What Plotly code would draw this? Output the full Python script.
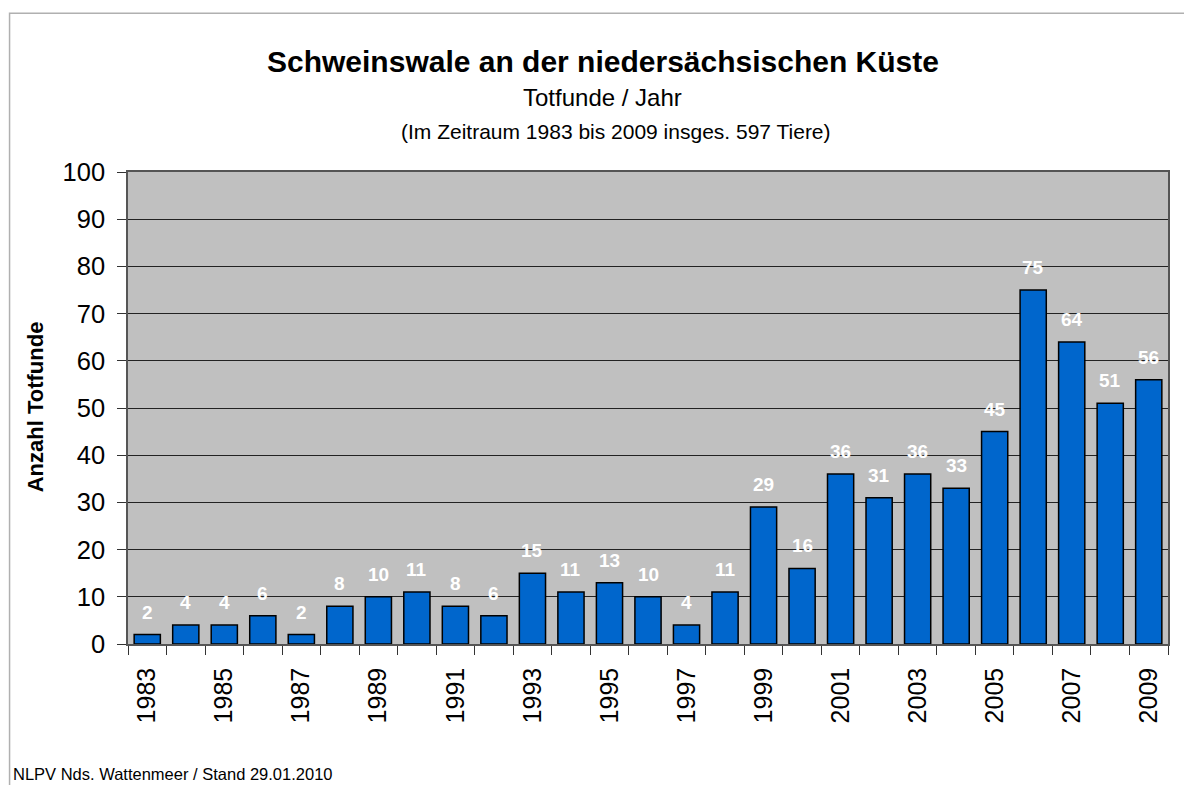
import plotly.graph_objects as go

years = list(range(1983, 2010))
counts = [2, 4, 4, 6, 2, 8, 10, 11, 8, 6, 15, 11, 13, 10, 4, 11, 29, 16, 36, 31, 36, 33, 45, 75, 64, 51, 56]
label_years = list(range(1983, 2010, 2))
y_ticks = list(range(0, 101, 10))

FONT = "Liberation Sans, Arial, sans-serif"

fig = go.Figure()
fig.add_trace(go.Bar(
    x=years, y=counts,
    marker=dict(color="#0066CC", line=dict(color="#000000", width=1.5)),
    width=0.68,
    hoverinfo="x+y",
))

annotations = []
for yr, c in zip(years, counts):
    annotations.append(dict(
        x=yr, y=c, xref="x", yref="y", text="<b>%d</b>" % c,
        showarrow=False, yanchor="bottom", yshift=10,
        font=dict(family=FONT, size=19, color="white"),
    ))

# reference-page coordinates of the plot area
W0, W1 = 127.5, 1168
H0, H1 = 172, 644.5

def px(xp):
    return (xp - W0) / (W1 - W0)

def py(yp):
    return 1 + (H0 - yp) / (H1 - H0)

def ptext(x, ypx, text, size, bold=False, xanchor="center"):
    return dict(
        x=x, xref="paper", y=py(ypx), yref="paper",
        text=("<b>%s</b>" % text) if bold else text, showarrow=False,
        xanchor=xanchor, yanchor="middle",
        font=dict(family=FONT, size=size, color="black"),
    )

annotations.append(ptext(px(603), 61, "Schweinswale an der niedersächsischen Küste", 30, bold=True))
annotations.append(ptext(px(602), 97, "Totfunde / Jahr", 24))
annotations.append(ptext(px(616), 131, "(Im Zeitraum 1983 bis 2009 insges. 597 Tiere)", 21))
annotations.append(ptext(px(10), 775, "NLPV Nds. Wattenmeer / Stand 29.01.2010", 16.5, xanchor="left"))
annotations.append(dict(
    x=px(35), xref="paper", y=py(407), yref="paper", text="<b>Anzahl Totfunde</b>",
    textangle=-90, showarrow=False, xanchor="center", yanchor="middle",
    font=dict(family=FONT, size=22, color="black"),
))

# page body has an 8px margin; figure sits at (8, 8)
fig.update_layout(
    width=1184, height=777,
    margin=dict(l=W0 - 8, r=1192 - W1, t=H0 - 8, b=785 - H1),
    paper_bgcolor="white", plot_bgcolor="#C0C0C0",
    showlegend=False,
    font=dict(family=FONT, color="black"),
    annotations=annotations,
    shapes=[dict(type="rect", xref="paper", yref="paper",
                 x0=px(9), x1=px(1300), y0=py(900), y1=py(13),
                 line=dict(color="#B0B0B0", width=1.5), layer="below")],
)

fig.update_xaxes(
    range=[1982.5, 2009.5],
    tickmode="array", tickvals=label_years, ticktext=[str(y) for y in label_years],
    tickangle=-90, tickfont=dict(family=FONT, size=25, color="black"),
    ticks="", ticklen=0, ticklabelstandoff=12,
    minor=dict(ticks="outside", ticklen=9, tickcolor="#333333", tick0=1982.5, dtick=1, showgrid=False),
    showgrid=False, showline=True, linecolor="#555555", linewidth=1.5, mirror=True,
    zeroline=False,
)
fig.update_yaxes(
    range=[0, 100], tickvals=y_ticks,
    tickfont=dict(family=FONT, size=25.5, color="black"),
    ticks="outside", ticklen=9, tickcolor="#333333", ticklabelstandoff=7,
    showgrid=True, gridcolor="#222222", gridwidth=1,
    showline=True, linecolor="#555555", linewidth=1.5, mirror=True,
    zeroline=False,
)

fig.write_html("out.html")
